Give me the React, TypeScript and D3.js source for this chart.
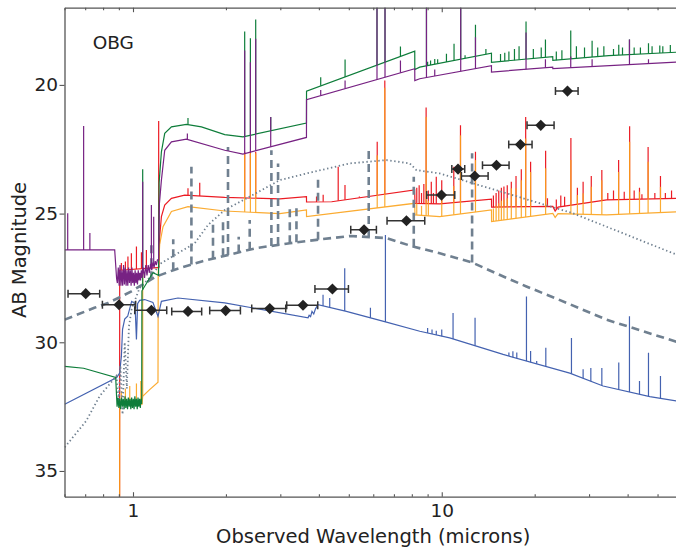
import React, { useEffect, useRef } from 'react';
import * as d3 from 'd3';

type Pt = [number, number];

// continuum points [micron, AB mag] and emission / feature lines [micron, peak mag]
const greenCont: Pt[] = [
  [0.601, 30.94], [0.692, 31.01], [0.879, 31.37], [0.8856, 32.21], [0.888, 32.5], [0.894, 32.15],
  [0.9, 32.55], [0.906, 32.2], [0.912, 32.6], [0.918, 32.15], [0.924, 32.5], [0.93, 32.2],
  [0.936, 32.6], [0.942, 32.1], [0.948, 32.55], [0.954, 32.2], [0.96, 32.6], [0.966, 32.15],
  [0.972, 32.5], [0.978, 32.2], [0.984, 32.6], [0.99, 32.15], [0.996, 32.55], [1.002, 32.2],
  [1.008, 32.6], [1.014, 32.1], [1.02, 32.5], [1.026, 32.2], [1.032, 32.6], [1.038, 32.15],
  [1.044, 32.5], [1.05, 32.2], [1.056, 32.55], [1.062, 32.2], [1.067, 32.4], [1.069, 28.0],
  [1.16, 27.3], [1.21, 27.4], [1.215, 23.8], [1.236, 22.6], [1.267, 21.88], [1.332, 21.63],
  [1.489, 21.53], [1.666, 21.63], [1.982, 21.93], [2.271, 22.02], [3.646, 21.48], [3.648, 20.24],
  [8.177, 18.69], [8.18, 19.4], [8.486, 19.31], [14.488, 18.77], [14.49, 19.12], [22.88, 18.9],
  [22.9, 19.05], [34.75, 18.86], [60, 18.72],
];
const greenLines: Pt[] = [
  [1.075, 23.28], [1.507, 21.29], [2.3, 17.92], [2.4, 18.19], [2.497, 17.46], [2.793, 21.25],
  [4.055, 19.7], [4.863, 19.01], [6.17, 16.5], [6.55, 16.5], [7.349, 18.51], [8.923, 16.5],
  [9.0, 19.1], [9.2, 19.05], [9.491, 18.99], [9.7, 19.0], [10.357, 18.79], [10.96, 18.4],
  [11.52, 16.5], [11.9, 18.85], [12.86, 17.66], [13.9, 18.6], [15.5, 18.8], [16.0, 18.75],
  [16.5, 18.7], [17.2, 18.6], [17.8, 18.5], [18.75, 17.54], [19.8, 18.6], [21.0, 18.55],
  [21.67, 18.24], [23.5, 18.7], [24.5, 18.65], [26.17, 17.89], [27.3, 18.5], [29.0, 18.55],
  [30.69, 18.28], [32.0, 18.55], [33.5, 18.5], [36.0, 18.6], [37.44, 18.44], [38.5, 18.55],
  [40.55, 18.24], [42.0, 18.55], [44.0, 18.55], [46.73, 18.38], [48.0, 18.5], [50.84, 18.47],
  [52.0, 18.5], [55.0, 18.45],
];

const purpleCont: Pt[] = [
  [0.601, 26.41], [0.8724, 26.41], [0.885, 27.53], [0.89, 27.7], [0.896, 27.1], [0.902, 27.8],
  [0.908, 27.0], [0.914, 27.8], [0.92, 27.2], [0.926, 27.8], [0.932, 27.0], [0.938, 27.75],
  [0.944, 27.1], [0.95, 27.8], [0.956, 27.2], [0.962, 27.8], [0.968, 27.1], [0.974, 27.7],
  [0.98, 27.2], [0.986, 27.8], [0.992, 27.1], [0.998, 27.7], [1.004, 27.3], [1.01, 27.8],
  [1.016, 27.2], [1.022, 27.7], [1.028, 27.3], [1.034, 27.75], [1.04, 27.2], [1.046, 27.6],
  [1.052, 27.3], [1.058, 27.6], [1.064, 27.2], [1.07, 27.5], [1.08, 27.1], [1.09, 27.5],
  [1.1, 27.0], [1.11, 27.4], [1.12, 27.0], [1.13, 27.3], [1.14, 26.95], [1.15, 27.2],
  [1.16, 26.9], [1.17, 27.1], [1.18, 26.85], [1.19, 27.0], [1.2, 26.8], [1.21, 26.8],
  [1.218, 24.6], [1.236, 23.7], [1.267, 22.54], [1.332, 22.21], [1.489, 22.11], [1.982, 22.54],
  [2.271, 22.69], [3.646, 22.04], [3.648, 20.57], [8.177, 19.37], [8.18, 19.83], [8.486, 19.76],
  [14.488, 19.25], [14.49, 19.5], [22.88, 19.31], [22.9, 19.37], [60, 19.1],
];
const purpleLines: Pt[] = [
  [0.6145, 24.99], [0.692, 21.6], [0.725, 25.75], [1.075, 23.76], [1.147, 24.67], [1.167, 25.12],
  [1.5, 21.89], [2.3, 18.66], [2.4, 19.12], [2.497, 18.21], [2.793, 21.25], [4.055, 20.2],
  [4.863, 19.83], [6.17, 16.5], [6.55, 16.5], [7.349, 19.05], [8.923, 16.5], [9.491, 19.4],
  [10.96, 19.5], [11.52, 16.5], [12.86, 18.15], [18.75, 17.96], [21.67, 19.0], [26.17, 18.9],
  [30.69, 19.0], [40.55, 18.24], [46.73, 19.0],
];

const redCont: Pt[] = [
  [0.9045, 40], [0.9056, 27.2], [1.2, 27.1], [1.212, 27.1], [1.22, 25.9], [1.236, 25.12],
  [1.267, 24.67], [1.332, 24.41], [1.47, 24.28], [1.982, 24.37], [2.99, 24.43], [3.646, 24.34],
  [3.648, 24.55], [4.4, 24.54], [8.17, 24.08], [8.19, 24.6], [9.85, 24.62], [14.49, 24.44],
  [14.5, 24.75], [22.9, 24.72], [23.3, 24.9], [23.8, 24.75], [34.2, 24.47], [60, 24.4],
];
const redLines: Pt[] = [
  [0.917, 26.92], [0.945, 26.86], [0.963, 26.67], [0.988, 26.54], [1.026, 26.28], [1.065, 26.5],
  [1.105, 26.41], [1.211, 21.4], [1.507, 24.02], [1.645, 23.8], [2.3, 22.6], [2.4, 22.6],
  [2.497, 22.6], [3.93, 24.34], [4.13, 24.27], [4.62, 23.18], [4.86, 23.89], [5.41, 24.34],
  [6.18, 22.21], [6.54, 19.83], [8.3, 24.0], [8.45, 23.9], [8.6, 24.2], [8.75, 23.85],
  [8.9, 20.88], [9.05, 24.1], [9.25, 23.76], [9.4, 24.2], [9.6, 23.57], [10.0, 23.7],
  [10.94, 23.18], [11.5, 21.57], [12.86, 22.6], [14.7, 24.3], [15.0, 24.2], [15.3, 24.1],
  [15.6, 24.0], [15.9, 23.95], [16.3, 23.9], [16.8, 23.76], [17.4, 23.54], [18.1, 23.28],
  [18.7, 21.25], [19.4, 22.99], [21.7, 22.56], [22.0, 24.4], [23.5, 24.45], [24.3, 24.3],
  [25.0, 24.35], [26.2, 22.06], [27.5, 24.0], [28.7, 23.76], [30.5, 23.54], [33.0, 23.31],
  [34.5, 24.2], [36.0, 24.1], [37.4, 22.92], [39.0, 24.15], [40.6, 21.61], [42.0, 24.1],
  [43.7, 24.0], [44.5, 24.25], [46.6, 22.41], [49.0, 24.2], [51.1, 23.54], [53.0, 24.2],
  [55.5, 24.1],
];

const orangeCont: Pt[] = [
  [0.9045, 40], [0.9056, 32.4], [1.07, 32.4], [1.075, 32.1], [1.13, 31.85], [1.205, 31.55],
  [1.207, 27.3], [1.22, 26.2], [1.251, 25.51], [1.332, 24.92], [1.507, 24.73], [1.982, 24.9],
  [2.99, 25.0], [3.646, 24.86], [3.648, 25.12], [8.17, 24.6], [8.19, 25.05], [9.85, 25.12],
  [14.49, 24.86], [14.5, 25.31], [22.9, 24.99], [23.3, 25.15], [23.8, 25.0], [34.2, 25.05],
  [60, 24.92],
];
const orangeLines: Pt[] = [
  [0.917, 31.9], [0.945, 31.8], [0.976, 31.7], [1.026, 31.6], [1.06, 31.5], [1.075, 27.2],
  [2.3, 22.66], [2.4, 22.66], [2.497, 22.66], [6.18, 22.73], [6.54, 20.11], [8.3, 24.6],
  [8.6, 24.7], [8.9, 21.25], [9.05, 24.5], [10.0, 24.2], [10.94, 23.93], [11.5, 21.96],
  [12.86, 22.92], [14.7, 24.8], [15.0, 24.7], [15.3, 24.6], [15.6, 24.5], [15.9, 24.45],
  [16.3, 24.4], [16.8, 24.02], [17.4, 24.02], [18.1, 23.7], [18.7, 22.08], [19.4, 23.38],
  [21.7, 23.24], [26.2, 22.92], [27.5, 24.28], [28.7, 24.21], [30.5, 23.96], [33.0, 23.7],
  [37.4, 23.38], [40.6, 22.21], [43.7, 24.15], [46.6, 22.99], [51.1, 23.96],
];

const blueCont: Pt[] = [
  [0.601, 32.41], [0.8856, 31.37], [0.905, 31.2], [0.917, 30.54], [0.925, 29.5], [0.94, 29.1],
  [0.961, 28.99], [0.99, 28.41], [1.015, 28.5], [1.026, 29.89], [1.035, 28.5], [1.051, 28.37],
  [1.091, 28.34], [1.16, 28.45], [1.205, 28.99], [1.236, 28.41], [1.398, 28.28], [1.982, 28.47],
  [3.69, 29.05], [3.72, 28.95], [3.76, 29.0], [3.8, 28.8], [3.85, 28.9], [3.9, 28.7],
  [3.975, 28.54], [4.91, 28.8], [6.62, 29.22], [8.49, 29.57], [10.61, 29.83], [15.8, 30.47],
  [25.98, 31.2], [33.31, 31.7], [47.19, 32.11], [60, 32.32],
];
const blueLines: Pt[] = [
  [4.126, 28.15], [4.337, 28.28], [4.85, 27.12], [5.875, 28.66], [6.57, 25.83], [9.0, 29.45],
  [9.3, 29.5], [9.6, 29.55], [10.0, 29.5], [10.88, 28.86], [12.82, 29.05], [16.5, 30.4],
  [17.0, 30.35], [17.5, 30.4], [18.81, 28.22], [19.4, 30.34], [20.3, 30.73], [21.73, 30.21],
  [26.31, 29.83], [28.7, 31.05], [30.4, 31.0], [33.0, 31.0], [37.44, 30.79], [40.55, 28.99],
  [43.7, 31.5], [46.73, 30.41], [51.1, 31.31],
];

const dashedCont: Pt[] = [
  [0.601, 29.12], [0.75, 28.66], [0.83, 28.47], [0.917, 28.22], [0.988, 28.02], [1.06, 27.8],
  [1.185, 27.45], [1.365, 27.18], [1.68, 26.85], [2.51, 26.34], [3.22, 26.15], [3.93, 26.02],
  [5.04, 25.87], [6.62, 25.95], [8.07, 26.28], [9.85, 26.54], [12.54, 26.9], [16.2, 27.5],
  [18.8, 27.83], [23.8, 28.33], [34.16, 29.12], [60, 30.05],
];
const dashedLines: Pt[] = [
  [1.147, 26.15], [1.35, 26.0], [1.546, 23.18], [1.816, 25.31], [1.957, 25.3], [2.031, 22.41],
  [2.2, 25.9], [2.388, 25.25], [2.807, 22.54], [2.95, 23.05], [3.22, 24.67], [3.384, 24.67],
  [3.975, 23.57], [5.801, 22.41], [8.117, 23.57], [12.54, 22.66],
];

const dottedCont: Pt[] = [
  [0.601, 34.08], [0.706, 33.05], [0.78, 32.09], [0.8835, 31.31], [0.9, 32.3], [0.91, 30.9],
  [0.925, 32.8], [0.94, 30.0], [0.955, 31.8], [0.97, 29.4], [0.99, 28.7], [1.05, 27.9],
  [1.13, 27.5], [1.236, 26.92], [1.585, 26.15], [1.75, 25.44], [1.982, 24.86], [2.388, 24.34],
  [2.988, 23.7], [3.646, 23.44], [5.036, 23.05], [6.62, 22.92], [7.878, 23.05], [8.28, 23.31],
  [9.85, 23.44], [16.2, 24.21], [26.63, 24.99], [60, 26.68],
];

// photometry with wavelength ranges
const photWave = [0.703, 0.901, 1.147, 1.507, 1.996, 2.773, 3.554, 4.425, 5.602, 7.686, 9.98, 11.29, 12.79, 15.04, 17.98, 20.93, 25.54];
const photLo = [0.616, 0.796, 1.013, 1.335, 1.772, 2.424, 3.147, 3.884, 5.073, 6.65, 8.94, 10.78, 11.58, 13.55, 16.48, 18.89, 23.35];
const photHi = [0.78, 1.02, 1.286, 1.669, 2.228, 3.124, 3.966, 4.986, 6.143, 8.81, 11.02, 11.87, 14.13, 16.52, 19.61, 23.11, 27.64];
const photMag = [28.11, 28.54, 28.76, 28.8, 28.77, 28.69, 28.56, 27.93, 25.63, 25.28, 24.28, 23.27, 23.54, 23.12, 22.32, 21.57, 20.24];

const xMajor = [1, 10];
const xMinor = [0.6, 0.7, 0.8, 0.9, 2, 3, 4, 5, 6, 7, 8, 9, 20, 30, 40, 50, 60];
const yTicks = [20, 25, 30, 35];

const FONT = 'DejaVu Sans';
const W = 676;
const H = 549;
const plot = { left: 64.5, right: 682, top: 7.7, bottom: 496.7 };

const x = d3.scaleLog().domain([0.6, 60]).range([plot.left, plot.right]);
const y = d3.scaleLinear().domain([17, 36]).range([plot.top, plot.bottom]);

function baseAt(cont: Pt[], w: number) {
  const lw = Math.log10(w);
  for (let i = 0; i < cont.length - 1; i++) {
    const [w0, m0] = cont[i];
    const [w1, m1] = cont[i + 1];
    if (w >= w0 && w <= w1) {
      const span = Math.log10(w1) - Math.log10(w0);
      const t = span > 0 ? (lw - Math.log10(w0)) / span : 0;
      return m0 + t * (m1 - m0);
    }
  }
  return cont[cont.length - 1][1];
}

const line = d3
  .line<Pt>()
  .x(d => x(d[0]))
  .y(d => y(d[1]));

function Axis({ axis, minor }: { axis: any; minor?: boolean }) {
  const ref = useRef<SVGGElement>(null);
  useEffect(() => {
    const g = d3.select(ref.current!);
    g.call(axis);
    g.attr('font-family', FONT).attr('font-size', 18.5);
    g.select('.domain').attr('stroke', minor ? 'none' : '#555').attr('stroke-width', 1.3);
    g.selectAll('.tick line').attr('stroke', '#555').attr('stroke-width', 1.1);
    g.selectAll('.tick text').attr('fill', '#222');
  }, [axis]);
  return <g ref={ref} />;
}

function Spectrum({ cont, lines, color, width = 1.2, opacity = 1, dash }: {
  cont: Pt[]; lines: Pt[]; color: string; width?: number; opacity?: number; dash?: string;
}) {
  return (
    <g stroke={color} strokeWidth={width} fill="none" opacity={opacity} strokeDasharray={dash}>
      <path d={line(cont)!} strokeLinejoin="miter" />
      {lines.map((l, i) => (
        <line
          key={i}
          x1={x(l[0])}
          x2={x(l[0])}
          y1={y(baseAt(cont, l[0]))}
          y2={y(l[1])}
        />
      ))}
    </g>
  );
}

export default function App() {
  const xAxisMajor = d3.axisBottom(x).tickValues(xMajor).tickFormat(d3.format('d')).tickSize(-4.5).tickSizeOuter(0).tickPadding(7);
  const xAxisMinor = d3.axisBottom(x).tickValues(xMinor).tickFormat(() => '').tickSize(-2.5).tickSizeOuter(0);
  const topMajor = d3.axisTop(x).tickValues(xMajor).tickFormat(() => '').tickSize(-4.5).tickSizeOuter(0);
  const topMinor = d3.axisTop(x).tickValues(xMinor).tickFormat(() => '').tickSize(-2.5).tickSizeOuter(0);
  const yAxis = d3.axisLeft(y).tickValues(yTicks).tickSize(5).tickSizeOuter(0).tickPadding(1.5);

  const diamond = d3.symbol(d3.symbolSquare, 62)();

  return (
    <svg width={W} height={H} style={{ position: 'absolute', left: 0, top: 0, background: '#fff' }}>
      <defs>
        <clipPath id="plotClip">
          <rect x={plot.left} y={plot.top} width={plot.right - plot.left} height={plot.bottom - plot.top} />
        </clipPath>
      </defs>
      <g clipPath="url(#plotClip)">
        <Spectrum cont={redCont} lines={redLines} color="#ec1c24" />
        <Spectrum cont={orangeCont} lines={orangeLines} color="#fba31c" opacity={0.9} />
        <Spectrum cont={blueCont} lines={blueLines} color="#4462b0" />
        <Spectrum cont={dottedCont} lines={[]} color="#708090" width={1.8} dash="1.4,2.6" />
        <Spectrum cont={dashedCont} lines={dashedLines} color="#708090" width={2.6} dash="8,5" />
        <Spectrum cont={greenCont} lines={greenLines} color="#0e7d3a" />
        <Spectrum cont={purpleCont} lines={purpleLines} color="#772283" />
        <g stroke="#333" strokeWidth={1.5}>
          {photWave.map((w, i) => (
            <g key={i}>
              <line x1={x(photLo[i])} x2={x(photHi[i])} y1={y(photMag[i])} y2={y(photMag[i])} />
              <line x1={x(photLo[i])} x2={x(photLo[i])} y1={y(photMag[i]) - 4} y2={y(photMag[i]) + 4} />
              <line x1={x(photHi[i])} x2={x(photHi[i])} y1={y(photMag[i]) - 4} y2={y(photMag[i]) + 4} />
            </g>
          ))}
        </g>
        {photWave.map((w, i) => (
          <path
            key={i}
            d={diamond!}
            transform={`translate(${x(w)},${y(photMag[i])}) rotate(45)`}
            fill="#222"
          />
        ))}
      </g>

      <g transform={`translate(0,${plot.bottom})`}>
        <Axis axis={xAxisMajor} />
        <Axis axis={xAxisMinor} minor />
      </g>
      <g transform={`translate(0,${plot.top})`}>
        <Axis axis={topMajor} />
        <Axis axis={topMinor} minor />
      </g>
      <g transform={`translate(${plot.left},0)`}>
        <Axis axis={yAxis} />
      </g>

      <text x={92.7} y={49.3} fontFamily={FONT} fontSize={18.5} fill="#222">OBG</text>
      <text x={(plot.left + plot.right) / 2} y={543} textAnchor="middle" fontFamily={FONT} fontSize={19.5} fill="#222">
        Observed Wavelength (microns)
      </text>
      <text
        transform={`translate(25.9,250) rotate(-90)`}
        textAnchor="middle"
        fontFamily={FONT}
        fontSize={19.5}
        fill="#222"
      >
        AB Magnitude
      </text>
    </svg>
  );
}
